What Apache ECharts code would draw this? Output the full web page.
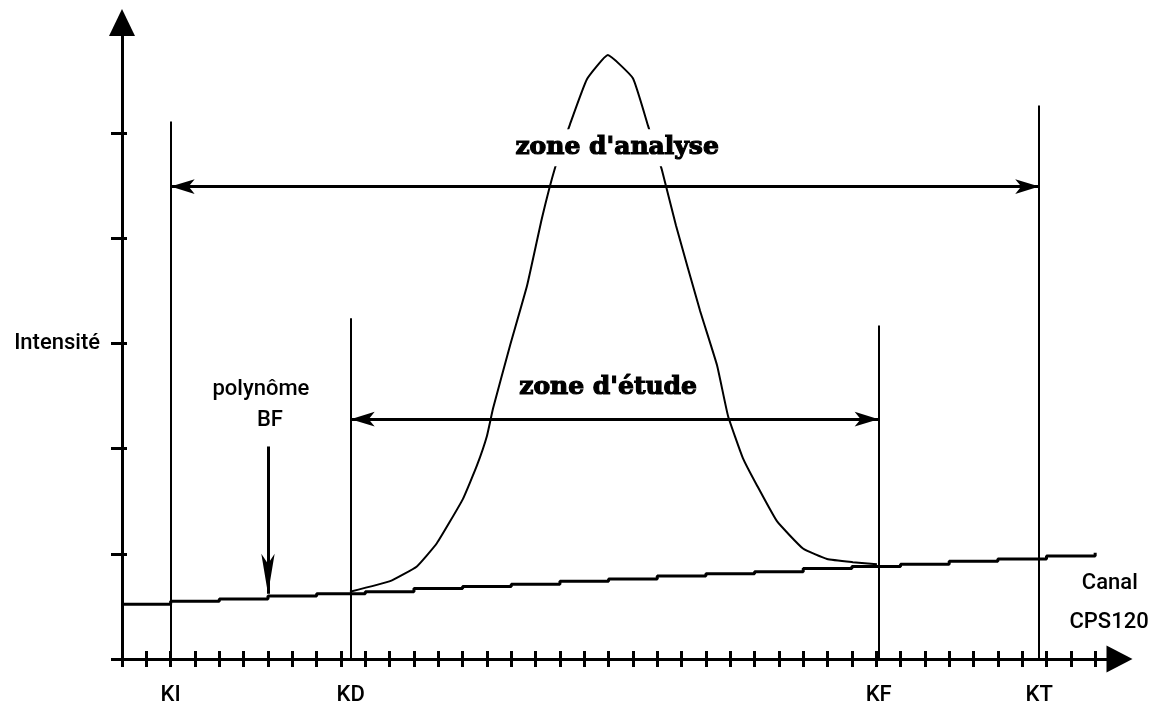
<!DOCTYPE html>
<html>
<head>
<meta charset="utf-8">
<script src="https://cdn.jsdelivr.net/npm/echarts@6/dist/echarts.min.js"></script>
<style>
html,body{margin:0;padding:0;background:#fff;}
#main{width:1159px;height:714px;}
</style>
</head>
<body>
<div id="main"></div>
<script>
// fond polynomial BF (marches)
var baseX = [0,2,4,6,8,10,12,14,16,18,20,22,24,26,28,30,32,34,36,38,40];
var baseY = [0.52,0.55,0.57,0.60,0.62,0.64,0.67,0.69,0.71,0.74,0.76,0.79,0.81,0.83,0.86,0.88,0.90,0.93,0.95,0.98,1.01];

// pic
var peakX = [9.37,11.02,12.12,12.94,14.01,14.59,15.0,15.25,15.95,16.65,17.26,17.80,18.41,19.11,19.97,21.0,21.62,22.19,22.77,23.76,24.46,24.91,25.52,26.10,26.92,27.99,28.98,30.04,31.03];
var peakY = [0.64,0.74,0.88,1.10,1.52,1.84,2.12,2.38,2.98,3.55,4.19,4.67,5.08,5.51,5.74,5.52,5.07,4.65,4.12,3.31,2.79,2.31,1.91,1.65,1.31,1.05,0.95,0.92,0.90];

// graduations
var xTicks = [0,1,2,3,4,5,6,7,8,9,10,11,12,13,14,15,16,17,18,19,20,21,22,23,24,25,26,27,28,29,30,31,32,33,34,35,36,37,38,39,40];
var yTicks = [0,1,2,3,4,5];

// limites des zones
var limitNames = ['KI','KD','KF','KT'];
var limitX = [2, 9.4, 31.1, 37.7];
var limitTop = [5.11, 3.24, 3.17, 5.26];
var analyseY = 4.49;
var etudeY = 2.28;
var polyX = 6.0;
var polyFrom = 2.02, polyTo = 0.62;

var mychart = echarts.init(document.getElementById('main'));

var txt = {fontFamily:'Roboto', fontWeight:500, fontSize:22, color:'#000'};
var big = {fontFamily:'DejaVu Serif', fontWeight:'bold', fontSize:25, color:'#000', textBorderColor:'#000', textBorderWidth:1.2};
var ink = '#000';

function pairs(xs, ys){
    return xs.map(function(x,i){ return [x, ys[i]]; });
}

var lines = limitNames.map(function(n,i){
    return [
        {coord:[limitX[i],0], name:n,
         label:Object.assign({show:true, position:'start', distance:25, formatter:n}, txt)},
        {coord:[limitX[i], limitTop[i]]}
    ];
});
var arrowSize = [11,24];
lines.push([
    {coord:[limitX[0],analyseY], symbol:'arrow', symbolSize:arrowSize, lineStyle:{width:3}},
    {coord:[limitX[3],analyseY], symbol:'arrow', symbolSize:arrowSize}
]);
lines.push([
    {coord:[limitX[1],etudeY], symbol:'arrow', symbolSize:arrowSize, lineStyle:{width:3}},
    {coord:[limitX[2],etudeY], symbol:'arrow', symbolSize:arrowSize}
]);
lines.push([
    {coord:[polyX,polyFrom], lineStyle:{width:3}},
    {coord:[polyX,polyTo], symbol:'arrow', symbolSize:[10,40]}
]);

var gridPos = {left:122, right:39.5, top:22.5, bottom:55};

mychart.setOption({
    animation:false,
    backgroundColor:'#fff',
    grid:[Object.assign({}, gridPos), Object.assign({}, gridPos)],
    xAxis:[{
        type:'value', gridIndex:0, min:0, max:41, interval:1,
        axisLine:{show:true, symbol:['none','triangle'], symbolSize:[27,26], lineStyle:{color:ink, width:3}},
        axisTick:{show:true, length:8, customValues:xTicks, lineStyle:{color:ink, width:3}},
        axisLabel:{show:false},
        splitLine:{show:false}
    },{
        type:'value', gridIndex:1, min:0, max:41, interval:1,
        axisLine:{show:false},
        axisTick:{show:true, inside:true, length:8, customValues:xTicks, lineStyle:{color:ink, width:3}},
        axisLabel:{show:false},
        splitLine:{show:false}
    }],
    yAxis:[{
        type:'value', gridIndex:0, min:0, max:6.05, interval:1,
        axisLine:{show:true, symbol:['none','triangle'], symbolSize:[26,27], lineStyle:{color:ink, width:3}},
        axisTick:{show:true, length:11, customValues:yTicks, lineStyle:{color:ink, width:3}},
        axisLabel:Object.assign({show:true, margin:22, customValues:yTicks, formatter:function(v){ return v === 3 ? 'Intensité' : ''; }}, txt),
        splitLine:{show:false}
    },{
        type:'value', gridIndex:1, min:0, max:6.05, interval:1,
        axisLine:{show:false},
        axisTick:{show:true, inside:true, length:5, customValues:yTicks, lineStyle:{color:ink, width:3}},
        axisLabel:{show:false},
        splitLine:{show:false}
    }],
    series:[{
        name:'polynôme BF',
        type:'line',
        step:'end',
        symbol:'none',
        data:pairs(baseX, baseY),
        lineStyle:{color:ink, width:3},
        markLine:{
            silent:true,
            symbol:'none',
            lineStyle:{color:ink, width:2, type:'solid'},
            label:{show:false},
            data:lines
        },
        markPoint:{
            silent:true,
            symbol:'circle',
            symbolSize:0,
            label:{show:true, position:'inside', formatter:'{b}'},
            data:[
                {name:"zone d'analyse", coord:[20.35,4.86], label:Object.assign({backgroundColor:'#fff', padding:[6,4]}, big)},
                {name:"zone d'étude", coord:[19.98,2.58], label:Object.assign({}, big)},
                {name:'polynôme', coord:[5.71,2.56], label:Object.assign({}, txt)},
                {name:'BF', coord:[6.08,2.27], label:Object.assign({}, txt)},
                {name:'Canal', coord:[40.6,0.72], label:Object.assign({}, txt)},
                {name:'CPS120', coord:[40.57,0.35], label:Object.assign({}, txt)}
            ]
        }
    },{
        name:'pic',
        type:'line',
        symbol:'none',
        smooth:0.12,
        data:pairs(peakX, peakY),
        lineStyle:{color:ink, width:2}
    }]
});
</script>
</body>
</html>
